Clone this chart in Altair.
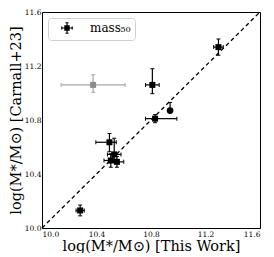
import altair as alt
import pandas as pd

# ---- data ----
x_vals   = [10.28, 10.375, 10.495, 10.53, 10.505, 10.55, 10.81, 10.83, 10.94, 11.295]
y_vals   = [10.13, 11.06, 10.635, 10.545, 10.50, 10.49, 11.06, 10.81, 10.87, 11.34]
x_err_lo = [0.03, 0.235, 0.10, 0.05, 0.05, 0.05, 0.05, 0.07, 0.0, 0.035]
x_err_hi = [0.03, 0.235, 0.05, 0.05, 0.04, 0.05, 0.05, 0.16, 0.0, 0.035]
y_err_lo = [0.04, 0.055, 0.07, 0.06, 0.05, 0.04, 0.065, 0.03, 0.0, 0.06]
y_err_hi = [0.04, 0.075, 0.065, 0.12, 0.05, 0.04, 0.12, 0.03, 0.06, 0.06]
kinds    = ["sq", "gray", "sq", "sq", "sq", "sq", "sq", "sq", "circle", "sq"]
series_name = "mass₅₀"
diag = [10.0, 11.6]
ticks = [10.0, 10.2, 10.4, 10.6, 10.8, 11.0, 11.2, 11.4, 11.6]

df = pd.DataFrame({
    "x": x_vals, "y": y_vals,
    "xlo": [a - b for a, b in zip(x_vals, x_err_lo)],
    "xhi": [a + b for a, b in zip(x_vals, x_err_hi)],
    "ylo": [a - b for a, b in zip(y_vals, y_err_lo)],
    "yhi": [a + b for a, b in zip(y_vals, y_err_hi)],
    "kind": kinds,
    "series": series_name,
})
df["bar"] = ["gray" if k == "gray" else "black" for k in kinds]

# caps
xcaps = []
ycaps = []
for _, r in df.iterrows():
    if r.xhi > r.x:
        xcaps.append({"x": r.xlo, "y": r.y, "bar": r.bar})
        xcaps.append({"x": r.xhi, "y": r.y, "bar": r.bar})
    if r.yhi > r.y:
        ycaps.append({"x": r.x, "y": r.yhi, "bar": r.bar})
    if r.ylo < r.y:
        ycaps.append({"x": r.x, "y": r.ylo, "bar": r.bar})
xcaps = pd.DataFrame(xcaps)
ycaps = pd.DataFrame(ycaps)

xs = alt.Scale(domain=[10.0, 11.6], nice=False, zero=False)
ys = alt.Scale(domain=[10.0, 11.6], nice=False, zero=False)
barstroke = alt.Stroke("bar:N", scale=alt.Scale(domain=["black", "gray"], range=["black", "#a6a6a6"]), legend=None)
barfill = alt.Fill("bar:N", scale=alt.Scale(domain=["black", "gray"], range=["black", "#a6a6a6"]), legend=None)

xaxis = alt.Axis(title="log(M*/M⊙) [This Work]", values=ticks, format=".1f", grid=False,
                 ticks=False, labelPadding=2)
yaxis = alt.Axis(title="log(M*/M⊙) [Carnall+23]", values=ticks, format=".1f", grid=False,
                 ticks=False, labelPadding=1)

base = alt.Chart(df)

diag_df = pd.DataFrame({"x": diag, "y": diag})
diag_line = alt.Chart(diag_df).mark_line(color="black", strokeDash=[4, 3], strokeWidth=1.3).encode(
    x=alt.X("x:Q", scale=xs, axis=xaxis), y=alt.Y("y:Q", scale=ys, axis=yaxis))

xbars = base.transform_filter("datum.xhi > datum.x").mark_rule(strokeWidth=1.2).encode(
    x="xlo:Q", x2="xhi:Q", y="y:Q", stroke=barstroke)
ybars = base.transform_filter("datum.yhi > datum.ylo").mark_rule(strokeWidth=1.2).encode(
    y="ylo:Q", y2="yhi:Q", x="x:Q", stroke=barstroke)
xcap = alt.Chart(xcaps).mark_tick(orient="vertical", size=4, thickness=1, opacity=1).encode(
    x="x:Q", y="y:Q", fill=barfill)
ycap = alt.Chart(ycaps).mark_tick(orient="horizontal", size=4, thickness=1, opacity=1).encode(
    x="x:Q", y="y:Q", fill=barfill)

legend_path = ("M-1,0H1M0,-1V1M-1,-0.3V0.3M1,-0.3V0.3M-0.3,-1H0.3M-0.3,1H0.3"
               "M-0.4,-0.4H0.4V0.4H-0.4Z")
squares = base.transform_filter("datum.kind == 'sq'").mark_point(
    shape="square", filled=True, size=36, opacity=1).encode(
    x="x:Q", y="y:Q",
    color=alt.Color("series:N", scale=alt.Scale(domain=[series_name], range=["black"]),
                    legend=alt.Legend(title=None, orient="top-left", offset=6,
                                      symbolType=legend_path, symbolSize=110,
                                      symbolStrokeWidth=1.2, symbolStrokeColor="black",
                                      symbolFillColor="black", symbolOffset=9,
                                      labelFont="DejaVu Serif", labelFontSize=12,
                                      labelOffset=17, padding=4,
                                      strokeColor="#d0d0d0", fillColor="white",
                                      cornerRadius=3)))
gray_pt = base.transform_filter("datum.kind == 'gray'").mark_point(
    shape="square", filled=True, size=36, opacity=1, color="#8c8c8c").encode(x="x:Q", y="y:Q")
circle_pt = base.transform_filter("datum.kind == 'circle'").mark_point(
    shape="circle", filled=True, size=45, opacity=1, color="black").encode(x="x:Q", y="y:Q")

chart = alt.layer(diag_line, xbars, ybars, xcap, ycap, gray_pt, squares, circle_pt).properties(
    width=218, height=216, padding={"left": 0, "top": 0, "right": 0, "bottom": 0}
).configure_view(stroke="black", strokeWidth=1).configure_axis(
    labelFont="DejaVu Serif", labelFontSize=7.5, labelColor="black",
    titleFont="DejaVu Serif", titleFontSize=14.5, titleFontWeight="normal", titleColor="black",
    domainColor="black", domainWidth=1
).configure_axisY(titlePadding=1).configure_axisX(titlePadding=2)

chart.save("out.html", embed_options={"renderer": "svg", "actions": False})
